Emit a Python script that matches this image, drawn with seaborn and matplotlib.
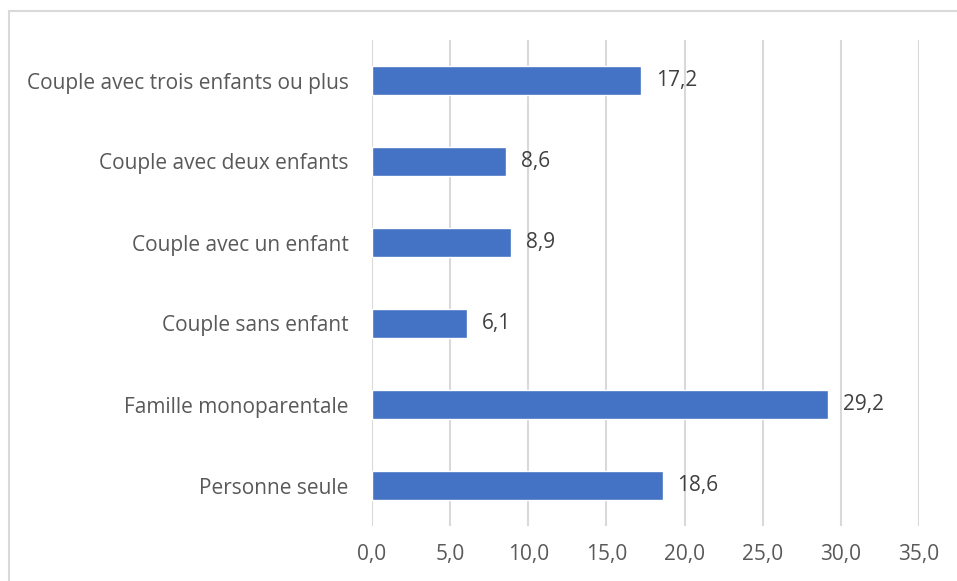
import matplotlib
matplotlib.use("Agg")
import matplotlib.pyplot as plt
import matplotlib.patches as mpatches
import seaborn as sns
import pandas as pd

categories = [
    "Couple avec trois enfants ou plus",
    "Couple avec deux enfants",
    "Couple avec un enfant",
    "Couple sans enfant",
    "Famille monoparentale",
    "Personne seule",
]
values = [17.2, 8.6, 8.9, 6.1, 29.2, 18.6]
xticks = [0, 5, 10, 15, 20, 25, 30, 35]

df = pd.DataFrame({"cat": categories, "val": values})

sns.set_theme(style="white")
plt.rcParams['font.family'] = ['Open Sans', 'DejaVu Sans']

W, H = 957, 581
fig = plt.figure(figsize=(W / 100, H / 100), dpi=100)
ax = fig.add_axes([372 / W, 1 - 526 / H, (919 - 372) / W, (526 - 40) / H])

# chart border
fig.patches.append(mpatches.Rectangle((9 / W, -0.1), 1.2, 1 - 11 / H + 0.1,
                                      transform=fig.transFigure, fill=False,
                                      edgecolor="#D9D9D9", linewidth=1.5))

sns.barplot(data=df, x="val", y="cat", orient="h", color="#4472C4",
            saturation=1, width=0.36, ax=ax, zorder=3)

ax.set_xlim(0, 35)
ax.set_ylim(5.5, -0.5)
ax.set_xticks(xticks)
ax.set_xticklabels([f"{t:.1f}".replace(".", ",") for t in xticks],
                   fontsize=15, color="#595959")
ax.tick_params(axis="y", labelsize=15, labelcolor="#595959", length=0, pad=17)
ax.tick_params(axis="x", length=0, pad=13)
ax.set_xlabel("")
ax.set_ylabel("")
for s in ax.spines.values():
    s.set_visible(False)
ax.grid(axis="x", color="#D9D9D9", linewidth=1.5, zorder=0)
ax.set_axisbelow(True)

for i, v in enumerate(values):
    ax.text(v + 0.95, i, f"{v:.1f}".replace(".", ","), va="center", ha="left",
            fontsize=15, color="#404040")

fig.savefig("out.png", dpi=100)
